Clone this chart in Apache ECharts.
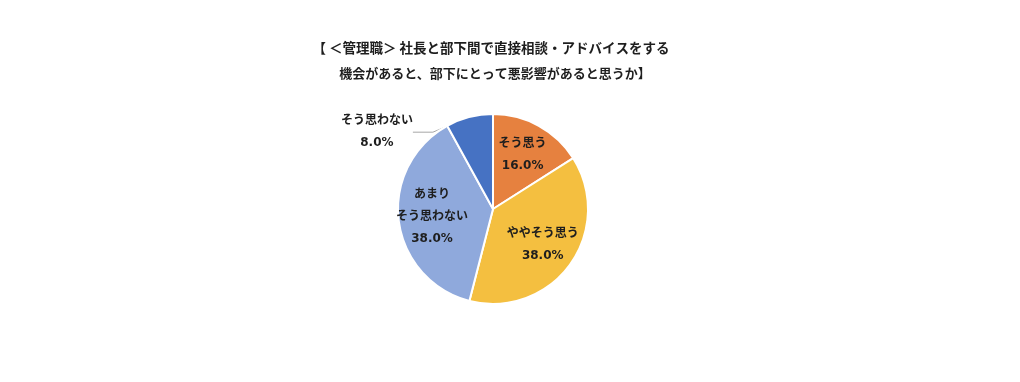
<!DOCTYPE html>
<html>
<head>
<meta charset="utf-8">
<script src="https://cdn.jsdelivr.net/npm/echarts@6/dist/echarts.min.js"></script>
<style>
html,body{margin:0;padding:0;background:#fff;}
#chart{width:1020px;height:382px;}
</style>
</head>
<body>
<div id="chart"></div>
<script>
const titleLines = ['【 ＜管理職＞ 社長と部下間で直接相談・アドバイスをする', '機会があると、部下にとって悪影響があると思うか】'];
const categories = ['そう思う', 'ややそう思う', 'あまり\nそう思わない', 'そう思わない'];
const values = [16.0, 38.0, 38.0, 8.0];
const palette = ['#E6813F', '#F4BF40', '#8FA9DC', '#4672C3'];

const FONT = '"Noto Sans CJK JP", "Noto Sans", sans-serif';
const LABEL_FONT = '"DejaVu Sans", "Noto Sans CJK JP", sans-serif';
const center = [493, 209];
const R = 95;

const fmt = p => p.name + '\n' + p.value.toFixed(1) + '%';

const mainData = categories.map((c, i) => {
  const outside = values[i] < 10;
  return {
    name: c, value: values[i],
    itemStyle: { color: palette[i] },
    label: { show: outside },
    labelLine: { show: outside }
  };
});
const labelData = categories.map((c, i) => ({
  name: c, value: values[i],
  label: { show: values[i] >= 10 }
}));

const titleStyle = { fontFamily: FONT, fontSize: 13, fontWeight: 'bold', color: '#1e1e1e' };

const chart = echarts.init(document.getElementById('chart'), null, { renderer: 'canvas' });
chart.setOption({
  animation: false,
  backgroundColor: '#fff',
  title: [
    { text: titleLines[0], left: 486, top: 36, textAlign: 'center', textStyle: Object.assign({}, titleStyle, { fontSize: 13.5 }) },
    { text: titleLines[1], left: 490, top: 62, textAlign: 'center', textStyle: titleStyle }
  ],
  series: [
    {
      type: 'pie',
      center: center, radius: [0, R],
      startAngle: 90, clockwise: true,
      silent: true,
      itemStyle: { borderColor: '#fff', borderWidth: 2 },
      label: {
        position: 'outside', formatter: fmt, align: 'center',
        fontFamily: LABEL_FONT, fontSize: 12, fontWeight: 'bold', color: '#1e1e1e', lineHeight: 22
      },
      labelLine: { length: 6, length2: 20, lineStyle: { color: '#a6a6a6', width: 1 } },
      labelLayout: function (p) {
        const r = p.labelRect;
        return { x: r.x + r.width / 2 - 30, y: r.y + r.height / 2 + 21, align: 'center', verticalAlign: 'middle' };
      },
      emphasis: { disabled: true },
      data: mainData
    },
    {
      type: 'pie',
      center: center, radius: [0, R * 1.23],
      startAngle: 90, clockwise: true,
      silent: true,
      itemStyle: { color: 'rgba(0,0,0,0)', borderWidth: 0 },
      label: {
        position: 'inside', formatter: fmt,
        fontFamily: LABEL_FONT, fontSize: 12, fontWeight: 'bold', color: '#1e1e1e', lineHeight: 22
      },
      labelLine: { show: false },
      emphasis: { disabled: true },
      data: labelData
    }
  ]
});
</script>
</body>
</html>
